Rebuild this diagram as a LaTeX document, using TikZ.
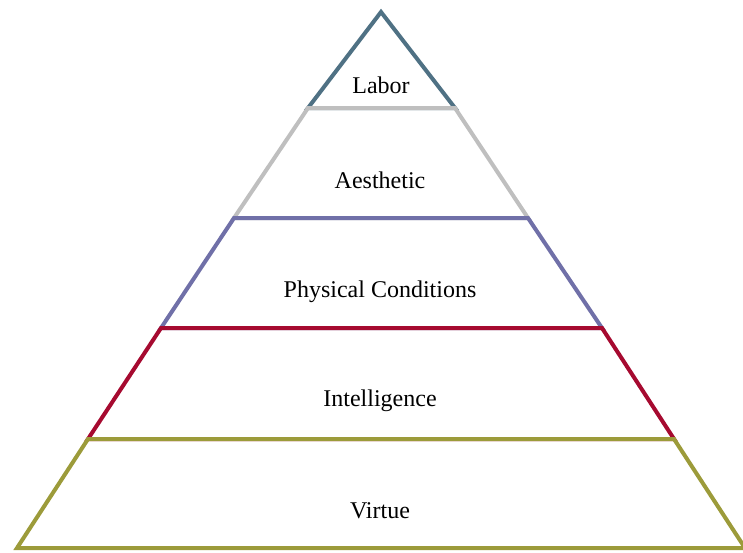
\documentclass[tikz,border=0pt]{standalone}
\usepackage{fontspec}
\setmainfont{Liberation Serif}
\usepackage{tikz}
\usepackage{xcolor}

\definecolor{laborc}{RGB}{79,113,132}
\definecolor{aesthc}{RGB}{191,191,191}
\definecolor{physc}{RGB}{112,112,168}
\definecolor{intelc}{RGB}{166,10,48}
\definecolor{virtc}{RGB}{156,155,58}

\begin{document}
\begin{tikzpicture}[x=1pt,y=-1pt,
    layer/.style={line width=4pt},
    lbl/.style={anchor=base,inner sep=0pt,font=\fontsize{24}{28}\selectfont}]
    \useasboundingbox (0,0) rectangle (743,552);
    % corners of the steps, top to bottom
    \coordinate (apex) at (381,12);
    \coordinate (l1) at (308,108);  \coordinate (r1) at (455,108);
    \coordinate (l2) at (234,218);  \coordinate (r2) at (528,218);
    \coordinate (l3) at (161,328);  \coordinate (r3) at (602,328);
    \coordinate (l4) at (88,439);   \coordinate (r4) at (674,439);
    \coordinate (l5) at (17,548);   \coordinate (r5) at (745,548);
    % each step drawn over the one above it
    \draw[layer,draw=laborc] (apex) -- (r1) -- (l1) -- cycle;
    \draw[layer,draw=aesthc] (l1) -- (r1) -- (r2) -- (l2) -- cycle;
    \draw[layer,draw=physc] (l2) -- (r2) -- (r3) -- (l3) -- cycle;
    \draw[layer,draw=intelc] (l3) -- (r3) -- (r4) -- (l4) -- cycle;
    \draw[layer,draw=virtc] (l4) -- (r4) -- (r5) -- (l5) -- cycle;
    \node[lbl] (labor) at (381,93) {Labor};
    \node[lbl] (aesthetic) at (380,188) {Aesthetic};
    \node[lbl] (physical) at (380,297) {Physical Conditions};
    \node[lbl] (intelligence) at (380,406) {Intelligence};
    \node[lbl] (virtue) at (380,518) {Virtue};
  \end{tikzpicture}
\end{document}
